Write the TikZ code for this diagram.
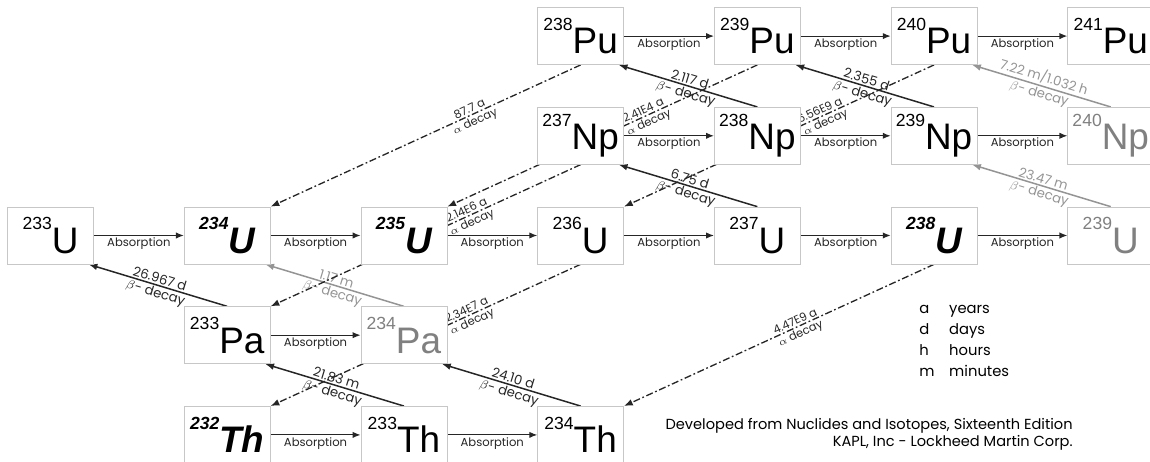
\documentclass[tikz,border=0pt]{standalone}
\usepackage{fontspec}
\setmainfont{Poppins}
\newfontfamily\nucfont{Liberation Sans}
\usetikzlibrary{arrows.meta,positioning,backgrounds}

\newcommand{\nuc}[2]{{\nucfont\raisebox{13.5pt}{\fontsize{10}{10}\selectfont #1}\fontsize{21}{21}\selectfont #2}}
\newcommand{\nucbf}[2]{{\nucfont\bfseries\itshape\raisebox{13.5pt}{\fontsize{10}{10}\selectfont #1}\fontsize{21}{21}\selectfont #2}}

\tikzset{
  node distance   = 0.84cm and 1.8cm,
  nuclide/.style  = {draw=black!22, fill=white, rectangle, minimum width=1.72cm, minimum height=1.14cm, inner sep=0pt},
  faded/.style    = {nuclide, text=black!50},
  absorb/.style   = {-{Latex[length=4.5pt,width=3.6pt]}, line width=0.65pt, black!85},
  beta/.style     = {-{Latex[length=5pt,width=3.8pt]}, line width=0.85pt, black!85},
  beta faded/.style = {beta, black!42},
  alpha/.style    = {-{Latex[length=5pt,width=3.8pt]}, line width=0.75pt, black!85,
                     dash pattern=on 4pt off 1.5pt on 1pt off 1.5pt},
  lbl/.style      = {font=\fontsize{6.6}{7}\selectfont, inner sep=1pt},
  beta time/.style  = {font=\fontsize{7.5}{8}\selectfont, inner sep=0.8pt, sloped},
  alpha time/.style = {font=\fontsize{6.5}{7}\selectfont, inner sep=0.9pt, sloped}
}

\begin{document}
\begin{tikzpicture}
    \useasboundingbox (0,0) rectangle (23,9.24);

    % uranium row
    \node[nuclide] (U 233) at (1.01,4.53) {\nuc{233}{U}};
    \node[nuclide] (U 234) [right=of U 233] {\nucbf{234}{U}};
    \node[nuclide] (U 235) [right=of U 234] {\nucbf{235}{U}};
    \node[nuclide] (U 236) [right=of U 235] {\nuc{236}{U}};
    \node[nuclide] (U 237) [right=of U 236] {\nuc{237}{U}};
    \node[nuclide] (U 238) [right=of U 237] {\nucbf{238}{U}};
    \node[faded]   (U 239) [right=of U 238] {\nuc{239}{U}};

    % neptunium and plutonium
    \node[nuclide] (Np 237) [above=of U 236] {\nuc{237}{Np}};
    \node[nuclide] (Np 238) [right=of Np 237] {\nuc{238}{Np}};
    \node[nuclide] (Np 239) [right=of Np 238] {\nuc{239}{Np}};
    \node[faded]   (Np 240) [right=of Np 239] {\nuc{240}{Np}};
    \node[nuclide] (Pu 238) [above=of Np 237] {\nuc{238}{Pu}};
    \node[nuclide] (Pu 239) [right=of Pu 238] {\nuc{239}{Pu}};
    \node[nuclide] (Pu 240) [right=of Pu 239] {\nuc{240}{Pu}};
    \node[nuclide] (Pu 241) [right=of Pu 240] {\nuc{241}{Pu}};

    % protactinium and thorium
    \node[nuclide] (Pa 233) [below=of U 234] {\nuc{233}{Pa}};
    \node[faded]   (Pa 234) [right=of Pa 233] {\nuc{234}{Pa}};
    \node[nuclide] (Th 232) [below=of Pa 233] {\nucbf{232}{Th}};
    \node[nuclide] (Th 233) [right=of Th 232] {\nuc{233}{Th}};
    \node[nuclide] (Th 234) [right=of Th 233] {\nuc{234}{Th}};

    \begin{scope}[on background layer]
      % absorption
      \draw[absorb] (U 233) -- node[lbl,below] {Absorption} (U 234);
      \draw[absorb] (U 234) -- node[lbl,below] {Absorption} (U 235);
      \draw[absorb] (U 235) -- node[lbl,below] {Absorption} (U 236);
      \draw[absorb] (U 236) -- node[lbl,below] {Absorption} (U 237);
      \draw[absorb] (U 237) -- node[lbl,below] {Absorption} (U 238);
      \draw[absorb] (U 238) -- node[lbl,below] {Absorption} (U 239);
      \draw[absorb] (Np 237) -- node[lbl,below] {Absorption} (Np 238);
      \draw[absorb] (Np 238) -- node[lbl,below] {Absorption} (Np 239);
      \draw[absorb] (Np 239) -- node[lbl,below] {Absorption} (Np 240);
      \draw[absorb] (Pu 238) -- node[lbl,below] {Absorption} (Pu 239);
      \draw[absorb] (Pu 239) -- node[lbl,below] {Absorption} (Pu 240);
      \draw[absorb] (Pu 240) -- node[lbl,below] {Absorption} (Pu 241);
      \draw[absorb] (Pa 233) -- node[lbl,below] {Absorption} (Pa 234);
      \draw[absorb] (Th 232) -- node[lbl,below] {Absorption} (Th 233);
      \draw[absorb] (Th 233) -- node[lbl,below] {Absorption} (Th 234);

      % beta decay
      \draw[beta] (Np 238.north) -- node[beta time,above] {2.117 d} node[beta time,below] {$\beta$- decay} ([xshift=-3pt]Pu 238.south east);
      \draw[beta] (Np 239.north) -- node[beta time,above] {2.355 d} node[beta time,below] {$\beta$- decay} ([xshift=-3pt]Pu 239.south east);
      \draw[beta faded] (Np 240.north) -- node[beta time,above] {7.22 m/1.032 h} node[beta time,below] {$\beta$- decay} ([xshift=-3pt]Pu 240.south east);
      \draw[beta] (U 237.north) -- node[beta time,above] {6.75 d} node[beta time,below] {$\beta$- decay} ([xshift=-3pt]Np 237.south east);
      \draw[beta faded] (U 239.north) -- node[beta time,above] {23.47 m} node[beta time,below] {$\beta$- decay} ([xshift=-3pt]Np 239.south east);
      \draw[beta] (Pa 233.north) -- node[beta time,above] {26.967 d} node[beta time,below] {$\beta$- decay} ([xshift=-3pt]U 233.south east);
      \draw[beta faded] (Pa 234.north) -- node[beta time,above] {1.17 m} node[beta time,below] {$\beta$- decay} ([xshift=-3pt]U 234.south east);
      \draw[beta] (Th 233.north) -- node[beta time,above] {21.83 m} node[beta time,below] {$\beta$- decay} ([xshift=-3pt]Pa 233.south east);
      \draw[beta] (Th 234.north) -- node[beta time,above] {24.10 d} node[beta time,below] {$\beta$- decay} ([xshift=-3pt]Pa 234.south east);

      % alpha decay
      \draw[alpha] (Pu 238.south) -- node[alpha time,above,pos=0.35] {87.7 a} node[alpha time,below,pos=0.35] {$\alpha$ decay} (U 234.north east);
      \draw[alpha] (Pu 239.south) -- node[alpha time,above,pos=0.36] {2.41E4 a} node[alpha time,below,pos=0.36] {$\alpha$ decay} (U 235.north east);
      \draw[alpha] (Pu 240.south) -- node[alpha time,above,pos=0.36] {6.56E9 a} node[alpha time,below,pos=0.36] {$\alpha$ decay} (U 236.north east);
      \draw[alpha] (Np 237.south) -- node[alpha time,above,pos=0.36] {2.14E6 a} node[alpha time,below,pos=0.36] {$\alpha$ decay} (Pa 233.north east);
      \draw[alpha] (U 236.south) -- node[alpha time,above,pos=0.36] {2.34E7 a} node[alpha time,below,pos=0.36] {$\alpha$ decay} (Th 232.north east);
      \draw[alpha] (U 238.south) -- node[alpha time,above,pos=0.44] {4.47E9 a} node[alpha time,below,pos=0.44] {$\alpha$ decay} (Th 234.north east);
    \end{scope}

    % key and source
    \node[anchor=north west, inner sep=0pt, font=\fontsize{8.4}{12}\selectfont] (legend) at (18.38,3.28)
      {\begin{tabular}{@{}p{17pt}@{}l@{}}
        a & years\\ d & days\\ h & hours\\ m & minutes
      \end{tabular}};
    \node[anchor=base east, inner sep=0pt, align=right, font=\fontsize{8.3}{10.2}\selectfont] (source) at (21.46,0.30)
      {Developed from Nuclides and Isotopes, Sixteenth Edition\\ KAPL, Inc - Lockheed Martin Corp.};
\end{tikzpicture}
\end{document}
